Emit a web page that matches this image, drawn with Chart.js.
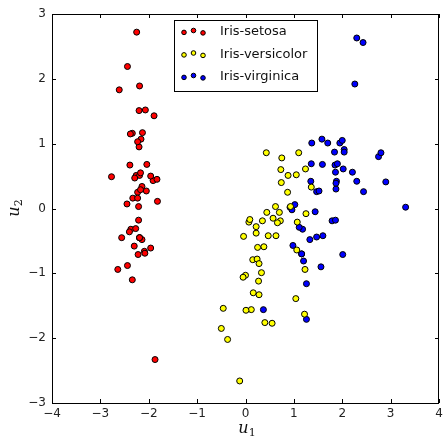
<!DOCTYPE html>
<html>
<head>
<meta charset="utf-8">
<script src="https://cdn.jsdelivr.net/npm/chart.js@4.4.1/dist/chart.umd.min.js"></script>
<style>
  html, body { margin: 0; padding: 0; background: #fff; }
  #grafico { display: block; }
</style>
</head>
<body>
<canvas id="grafico" width="443" height="439"></canvas>
<script>
// Datos (componentes principales u1, u2)
const especies = ['Iris-setosa', 'Iris-versicolor', 'Iris-virginica'];
const colores = ['#ff0000', '#ffff00', '#0000ff'];

const setosaU1 = [-2.26, -2.09, -2.37, -2.30, -2.39, -2.07, -2.45, -2.23, -2.34, -2.19,
    -2.16, -2.33, -2.22, -2.64, -2.19, -2.25, -2.20, -2.19, -1.89, -2.34,
    -1.91, -2.20, -2.77, -1.82, -2.23, -1.96, -2.05, -2.17, -2.14, -2.27,
    -2.14, -1.83, -2.61, -2.44, -2.19, -2.21, -2.04, -2.19, -2.44, -2.17,
    -2.29, -1.87, -2.56, -1.96, -2.13, -2.08, -2.38, -2.40, -2.23, -2.21];
const setosaU2 = [0.51, -0.66, -0.32, -0.58, 0.67, 1.52, 0.07, 0.25, -1.10, -0.45,
    1.07, 0.16, -0.71, -0.94, 1.89, 2.72, 1.51, 0.51, 1.43, 1.16,
    0.43, 0.95, 0.49, 0.11, 0.16, -0.61, 0.27, 0.55, 0.34, -0.31,
    -0.48, 0.45, 1.83, 2.19, -0.45, -0.18, 0.68, -0.45, -0.88, 0.29,
    0.47, -2.33, -0.45, 0.50, 1.17, -0.69, 1.15, -0.36, 1.03, 0.03];

const versicolorU1 = [1.10, 0.73, 1.24, 0.40, 1.07, 0.38, 0.75, -0.50, 0.93, 0.00,
    -0.12, 0.44, 0.55, 0.72, -0.04, 0.88, 0.35, 0.15, 1.22, 0.16,
    0.74, 0.47, 1.23, 0.63, 0.70, 0.87, 1.25, 1.36, 0.66, -0.05,
    0.12, 0.01, 0.24, 1.06, 0.22, 0.43, 1.05, 1.04, 0.07, 0.28,
    0.27, 0.62, 0.33, -0.37, 0.28, 0.09, 0.22, 0.57, -0.46, 0.25];
const versicolorU2 = [0.86, 0.60, 0.61, -1.76, -0.21, -0.59, 0.78, -1.85, 0.03, -1.03,
    -2.66, -0.06, -1.77, -0.19, -0.43, 0.51, -0.19, -0.79, -1.63, -1.30,
    0.40, -0.42, -0.94, -0.42, -0.06, 0.25, -0.08, 0.33, -0.22, -1.06,
    -1.56, -1.57, -0.78, -0.64, -0.28, 0.86, 0.52, -1.39, -0.21, -1.33,
    -1.12, 0.03, -0.99, -2.02, -0.85, -0.17, -0.38, -0.15, -1.54, -0.60];

const virginicaU1 = [1.84, 1.16, 2.21, 1.44, 1.87, 2.75, 0.37, 2.30, 2.01, 2.26,
    1.36, 1.60, 1.88, 1.26, 1.47, 1.59, 1.47, 2.43, 3.31, 1.26,
    2.04, 0.98, 2.90, 1.33, 1.70, 1.95, 1.18, 1.02, 1.79, 1.86,
    2.44, 2.30, 1.86, 1.11, 1.20, 2.80, 1.58, 1.35, 0.92, 1.85,
    2.02, 1.90, 1.16, 2.04, 2.00, 1.87, 1.56, 1.52, 1.37, 0.96];
const virginicaU2 = [0.87, -0.70, 0.56, -0.05, 0.30, 0.80, -1.56, 0.42, -0.71, 1.92,
    0.69, -0.42, 0.42, -1.16, -0.44, 0.68, 0.26, 2.56, 0.02, -1.71,
    0.91, -0.57, 0.41, -0.48, 1.01, 1.01, -0.32, 0.06, -0.19, 0.56,
    0.26, 2.63, -0.18, -0.29, -0.81, 0.86, 1.07, 0.42, 0.02, 0.67,
    0.61, 0.69, -0.70, 0.87, 1.05, 0.39, -0.90, 0.27, 1.01, -0.02];

const ticksX = [-4, -3, -2, -1, 0, 1, 2, 3, 4];
const ticksY = [-3, -2, -1, 0, 1, 2, 3];

function juntar(u1, u2) {
    return u1.map((v, i) => ({ x: v, y: u2[i] }));
}

const series = [
    juntar(setosaU1, setosaU2),
    juntar(versicolorU1, versicolorU2),
    juntar(virginicaU1, virginicaU2)
];

const menos = v => String(v).replace('-', '\u2212');

// Marco, marcas interiores, leyenda y títulos al estilo matplotlib
const marcoPlugin = {
    id: 'marco',
    afterDatasetsDraw(chart) {
        const { ctx, chartArea: a, scales } = chart;
        ctx.save();
        ctx.strokeStyle = '#000';
        ctx.lineWidth = 1;
        ctx.strokeRect(Math.round(a.left) + 0.5, Math.round(a.top) + 0.5,
            Math.round(a.right - a.left) - 1, Math.round(a.bottom - a.top));

        ctx.beginPath();
        ticksX.forEach(t => {
            const px = Math.round(scales.x.getPixelForValue(t)) + 0.5;
            ctx.moveTo(px, a.bottom); ctx.lineTo(px, a.bottom - 4);
            ctx.moveTo(px, a.top); ctx.lineTo(px, a.top + 4);
        });
        ticksY.forEach(t => {
            const py = Math.round(scales.y.getPixelForValue(t)) + 0.5;
            ctx.moveTo(a.left, py); ctx.lineTo(a.left + 4, py);
            ctx.moveTo(a.right, py); ctx.lineTo(a.right - 4, py);
        });
        ctx.stroke();

        // Leyenda
        const lx = 174.5, ly = 20.5, lw = 143, lh = 71;
        ctx.fillStyle = '#fff';
        ctx.fillRect(lx, ly, lw, lh);
        ctx.strokeRect(lx, ly, lw, lh);
        const offs = [0.4, -1.5, 0.9];
        especies.forEach((nombre, i) => {
            const cy = 32 + i * 22.5;
            [184, 193.5, 203].forEach((mx, k) => {
                ctx.beginPath();
                ctx.arc(mx, cy + offs[k], 2.3, 0, Math.PI * 2);
                ctx.fillStyle = colores[i];
                ctx.fill();
                ctx.stroke();
            });
            ctx.fillStyle = '#111';
            ctx.font = '13px "DejaVu Sans"';
            ctx.textBaseline = 'middle';
            ctx.textAlign = 'left';
            ctx.fillText(nombre, 220, cy);
        });

        // Títulos de ejes
        ctx.fillStyle = '#111';
        ctx.textBaseline = 'alphabetic';
        const titulo = (sub, x, y) => {
            ctx.font = 'italic 16px "DejaVu Serif"';
            ctx.textAlign = 'left';
            const w = ctx.measureText('u').width;
            ctx.font = '11px "DejaVu Serif"';
            const ws = ctx.measureText(sub).width;
            const x0 = x - (w + ws) / 2;
            ctx.font = 'italic 16px "DejaVu Serif"';
            ctx.fillText('u', x0, y);
            ctx.font = '11px "DejaVu Serif"';
            ctx.fillText(sub, x0 + w, y + 3);
        };
        titulo('1', 247, 433);
        ctx.translate(19, 208);
        ctx.rotate(-Math.PI / 2);
        titulo('2', 0, 0);
        ctx.restore();
    }
};

const ctx = document.getElementById('grafico').getContext('2d');
new Chart(ctx, {
    type: 'scatter',
    data: {
        datasets: series.map((datos, i) => ({
            label: especies[i],
            data: datos,
            backgroundColor: colores[i],
            borderColor: '#000',
            borderWidth: 1,
            pointRadius: 3,
            pointHoverRadius: 3
        }))
    },
    options: {
        responsive: false,
        animation: false,
        layout: { padding: { top: 14, right: 0, left: 0, bottom: 0 } },
        plugins: {
            legend: { display: false },
            tooltip: { enabled: false }
        },
        scales: {
            x: {
                type: 'linear',
                min: -4, max: 4,
                afterBuildTicks: s => { s.ticks = ticksX.map(v => ({ value: v })); },
                afterFit: s => { s.height = 36; s.paddingLeft = 0; s.paddingRight = 0; },
                grid: { display: false, drawTicks: false },
                border: { display: false },
                ticks: {
                    padding: 4,
                    color: '#222',
                    font: { family: 'DejaVu Sans', size: 12 },
                    callback: v => menos(v),
                    maxRotation: 0
                }
            },
            y: {
                type: 'linear',
                min: -3, max: 3,
                afterBuildTicks: s => { s.ticks = ticksY.map(v => ({ value: v })); },
                afterFit: s => { s.width = 52; s.paddingTop = 0; s.paddingBottom = 0; },
                grid: { display: false, drawTicks: false },
                border: { display: false },
                ticks: {
                    padding: 6,
                    color: '#222',
                    font: { family: 'DejaVu Sans', size: 12 },
                    callback: v => menos(v)
                }
            }
        }
    },
    plugins: [marcoPlugin]
});
</script>
</body>
</html>
